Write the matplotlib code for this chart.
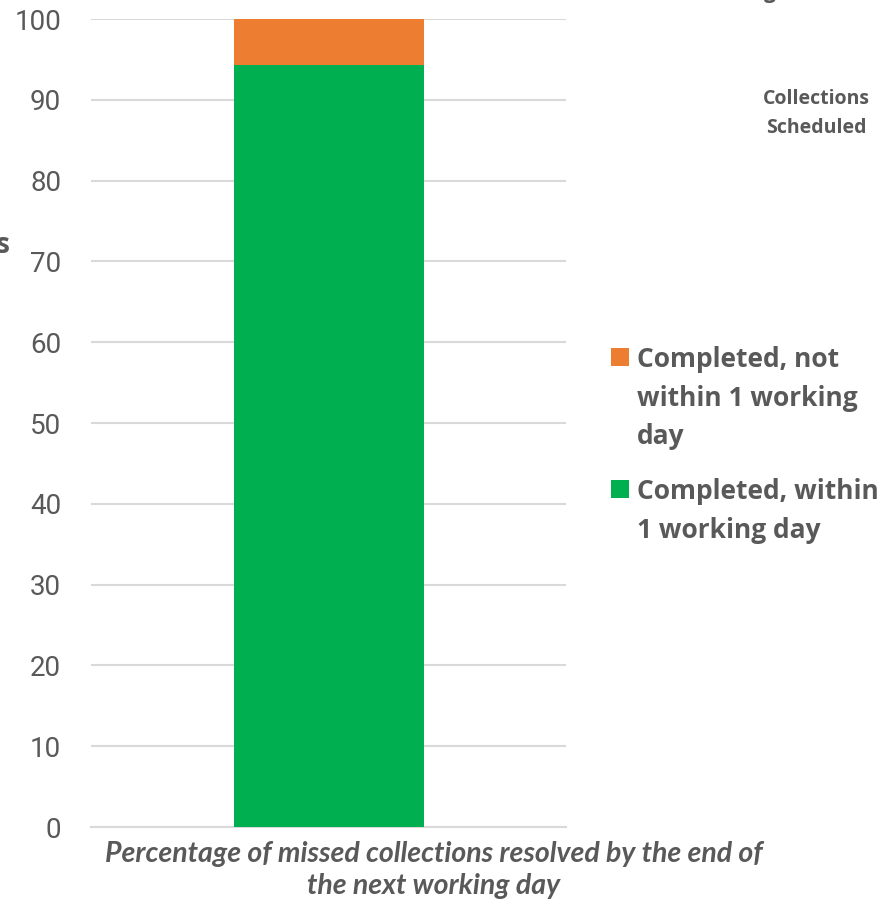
import matplotlib
matplotlib.use("Agg")
import matplotlib.pyplot as plt
from matplotlib.patches import Rectangle

plt.rcParams['font.family'] = ['Lato', 'DejaVu Sans']

categories = ["Percentage of missed collections resolved by the end of\nthe next working day"]
within_one_day = [94.3]
not_within_one_day = [5.7]
series_labels = ["Completed, not\nwithin 1 working\nday", "Completed, within\n1 working day"]
yticks = [0, 10, 20, 30, 40, 50, 60, 70, 80, 90, 100]

GREEN = "#00b050"
ORANGE = "#ed7d31"
GREY = "#595959"
GRID = "#d9d9d9"

W, H = 886, 901
fig = plt.figure(figsize=(W / 100, H / 100), dpi=100)
ax = fig.add_axes([91 / W, 1 - 827 / H, (566 - 91) / W, (827 - 19) / H])

x = [0]
ax.bar(x, within_one_day, width=0.4, color=GREEN, zorder=3)
ax.bar(x, not_within_one_day, bottom=within_one_day, width=0.4, color=ORANGE, zorder=3)

ax.set_xlim(-0.5, 0.5)
ax.set_ylim(0, 100)
ax.set_yticks(yticks)
ax.set_yticklabels([str(t) for t in yticks], fontsize=20, color=GREY, family='Roboto')
ax.set_xticks([])
ax.yaxis.grid(True, color=GRID, linewidth=1.5, zorder=0)
ax.tick_params(axis='y', length=0, pad=21.5)
for side in ['left', 'right', 'top']:
    ax.spines[side].set_visible(False)
ax.spines['bottom'].set_color(GRID)
ax.spines['bottom'].set_linewidth(1.5)

# Category label under the bar, drawn line by line
cat_lines = categories[0].split("\n")
for i, line in enumerate(cat_lines):
    fig.text(434 / W, 1 - (862 + 32 * i) / H, line, ha='center', va='baseline',
             fontsize=20.5, fontweight='bold', fontstyle='italic', color=GREY)

# Legend: square marker aligned with the first line of each entry
colors = [ORANGE, GREEN]
first_baselines = [367, 499]
pitch = 38.5
for color, label, base in zip(colors, series_labels, first_baselines):
    fig.patches.append(Rectangle((611 / W, 1 - (base - 1) / H), 18 / W, 18 / H,
                                 transform=fig.transFigure, facecolor=color,
                                 edgecolor='none'))
    for j, line in enumerate(label.split("\n")):
        fig.text(637 / W, 1 - (base + pitch * j) / H, line, ha='left', va='baseline',
                 fontsize=19, fontweight='bold', color=GREY, family='Open Sans')

for i, line in enumerate(["Collections", "Scheduled"]):
    fig.text(816 / W, 1 - (104 + 29 * i) / H, line, ha='center', va='baseline',
             fontsize=14, fontweight='bold', color=GREY, family='Open Sans')

# Axis titles running past the figure edges
fig.text(10 / W, 1 - 253 / H, "Missed Collections", ha='right', va='baseline',
         fontsize=20, fontweight='bold', color=GREY, family='Open Sans')
fig.text(776 / W, 1 + 2 / H, "Missed Collections Resolved Within 1 Working", ha='right',
         va='baseline', fontsize=15, fontweight='bold', color=GREY, family='Open Sans')

fig.savefig("out.png", dpi=100)
